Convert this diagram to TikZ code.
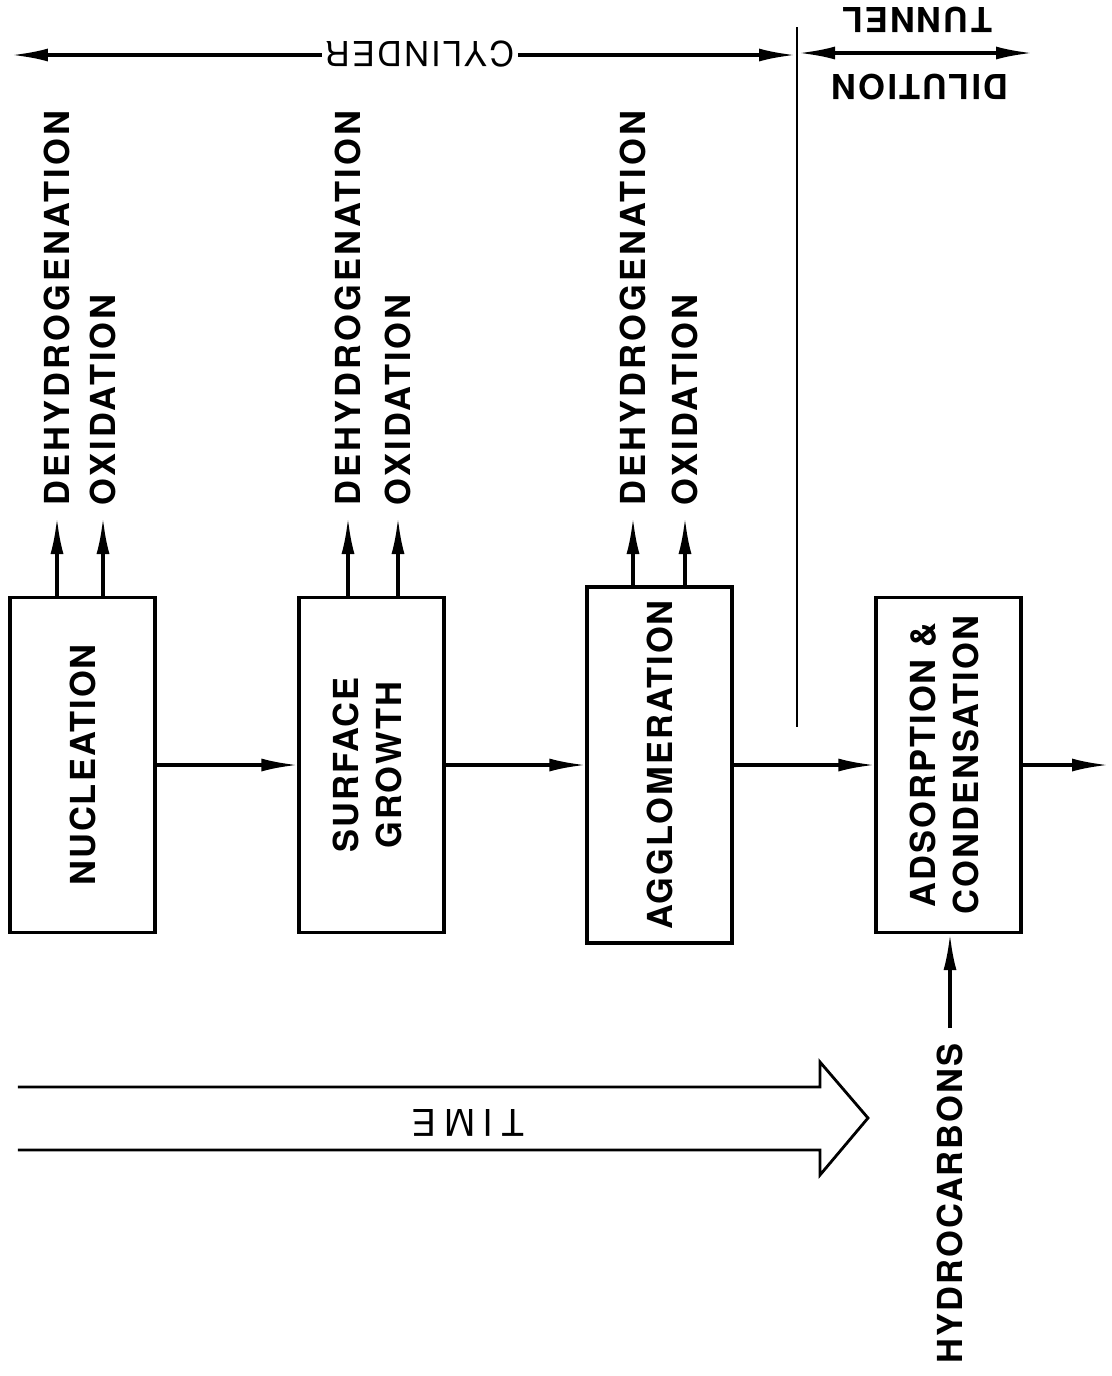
\documentclass[tikz,border=0pt]{standalone}
\usepackage{fontspec}
\usepackage{graphicx}
\setmainfont{TeX Gyre Heros}[LetterSpace=6]
\newfontfamily\sidefont{TeX Gyre Heros}[LetterSpace=9]
\newfontfamily\widefont{TeX Gyre Heros}[LetterSpace=22]
\usetikzlibrary{arrows.meta}

\begin{document}
\begin{tikzpicture}[
    every node/.style={font=\bfseries\fontsize{9.8}{12}\selectfont},
    stage/.style={draw, line width=\linethic, minimum width=\boxw, minimum height=\boxh, inner sep=0pt},
    flow/.style={line width=\linethic, -{Latex[length=3.6mm, width=1.3mm]}},
    sidelabel/.style={rotate=90, anchor=west, inner sep=0pt},
    flipped/.style={rotate=180, inner sep=1pt}
]
    %--------------------%
    % Parameters
    %--------------------%
    \def\rowy{-7.65}
    \def\tipy{-5.18}
    \def\boxw{1.45cm}
    \def\boxh{3.35cm}
    \def\linethic{0.9pt}

    \useasboundingbox (0,0) rectangle (11.12,-13.76);

    %--------------------%
    % Stages
    %--------------------%
    \node[stage] (nucl) at (0.825,\rowy) {\rotatebox{90}{NUCLEATION}};
    \node[stage] (surf) at (3.715,\rowy) {\rotatebox{90}{\begin{tabular}{@{}c@{}}SURFACE\\GROWTH\end{tabular}}};
    \node[stage, minimum height=3.56cm] (aggl) at (6.595,\rowy) {\rotatebox{90}{AGGLOMERATION}};
    \node[stage] (adso) at (9.485,\rowy) {\rotatebox{90}{\begin{tabular}{@{}c@{}}ADSORPTION \&\\CONDENSATION\end{tabular}}};
    \coordinate (out) at (11.08,\rowy);

    % Stage to stage
    \draw[flow] (nucl) -- (surf);
    \draw[flow] (surf) -- (aggl);
    \draw[flow] (aggl) -- (adso);
    \draw[flow] (adso) -- (out);

    %--------------------%
    % Side reactions
    %--------------------%
    \coordinate (nuclD) at (0.57,\tipy);
    \coordinate (nuclO) at (1.03,\tipy);
    \coordinate (surfD) at (3.48,\tipy);
    \coordinate (surfO) at (3.98,\tipy);
    \coordinate (agglD) at (6.33,\tipy);
    \coordinate (agglO) at (6.85,\tipy);

    \draw[flow] (nucl.north -| nuclD) -- (nuclD);
    \draw[flow] (nucl.north -| nuclO) -- (nuclO);
    \draw[flow] (surf.north -| surfD) -- (surfD);
    \draw[flow] (surf.north -| surfO) -- (surfO);
    \draw[flow] (aggl.north -| agglD) -- (agglD);
    \draw[flow] (aggl.north -| agglO) -- (agglO);

    \node[sidelabel, font=\sidefont\bfseries\fontsize{9.8}{12}\selectfont] (nuclDtxt) at ([yshift=1.2mm]nuclD) {DEHYDROGENATION};
    \node[sidelabel, font=\sidefont\bfseries\fontsize{9.8}{12}\selectfont] (nuclOtxt) at ([yshift=1.2mm]nuclO) {OXIDATION};
    \node[sidelabel, font=\sidefont\bfseries\fontsize{9.8}{12}\selectfont] (surfDtxt) at ([yshift=1.2mm]surfD) {DEHYDROGENATION};
    \node[sidelabel, font=\sidefont\bfseries\fontsize{9.8}{12}\selectfont] (surfOtxt) at ([yshift=1.2mm]surfO) {OXIDATION};
    \node[sidelabel, font=\sidefont\bfseries\fontsize{9.8}{12}\selectfont] (agglDtxt) at ([yshift=1.2mm]agglD) {DEHYDROGENATION};
    \node[sidelabel, font=\sidefont\bfseries\fontsize{9.8}{12}\selectfont] (agglOtxt) at ([yshift=1.2mm]agglO) {OXIDATION};

    %--------------------%
    % Hydrocarbons feed
    %--------------------%
    \coordinate (hcfeed) at (9.50,-10.28);
    \draw[flow] (hcfeed) -- (adso.south -| hcfeed);
    \node[sidelabel, anchor=east] (hctxt) at ([yshift=-1.5mm]hcfeed) {HYDROCARBONS};

    %--------------------%
    % Cylinder / tunnel
    %--------------------%
    \coordinate (divtop) at (7.97,-0.27);
    \coordinate (divbot) at (7.97,-7.27);
    \draw[line width=0.7pt] (divtop) -- (divbot);

    \coordinate (cylL) at (0.12,-0.55);
    \coordinate (cylR) at (7.95,-0.55);
    \draw[flow, {Latex[length=3.6mm, width=1.3mm]}-{Latex[length=3.6mm, width=1.3mm]}] (cylL) -- (cylR);
    \node[flipped, fill=white, font=\fontsize{9.8}{12}\selectfont] (cyltxt) at (4.20,-0.54) {CYLINDER};

    \coordinate (tunL) at (7.99,-0.53);
    \coordinate (tunR) at (10.32,-0.53);
    \draw[flow, {Latex[length=3.6mm, width=1.3mm]}-{Latex[length=3.6mm, width=1.3mm]}] (tunL) -- (tunR);
    \node[flipped] (tuntxt) at (9.17,-0.20) {TUNNEL};
    \node[flipped] (diltxt) at (9.20,-0.87) {DILUTION};

    %--------------------%
    % Time arrow
    %--------------------%
    \draw[line width=0.8pt, line join=miter]
        (0.18,-10.87) -- (8.20,-10.87) -- (8.20,-10.62) -- (8.68,-11.18)
        -- (8.20,-11.75) -- (8.20,-11.50) -- (0.18,-11.50);
    \node[flipped, font=\widefont\fontsize{10.5}{12}\selectfont] (timetxt) at (4.68,-11.23) {TIME};

\end{tikzpicture}
\end{document}
